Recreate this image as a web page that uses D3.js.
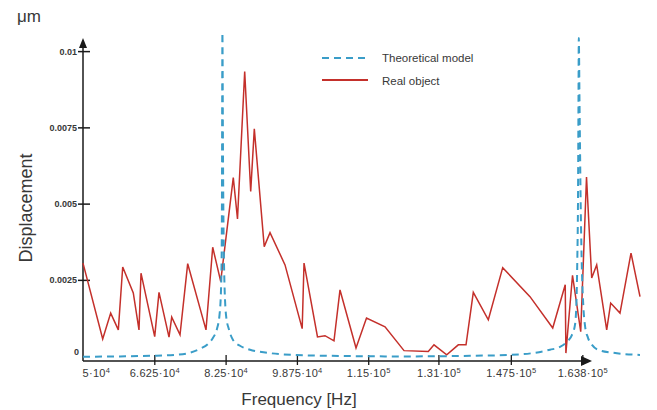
<!DOCTYPE html>
<html><head><meta charset="utf-8">
<script src="https://cdn.jsdelivr.net/npm/d3@7"></script>
<style>body{margin:0;background:#fff}svg{display:block}</style>
</head><body><svg id="c" width="657" height="410"></svg>
<script>
// ---- data ----
const realFreq = [50000,54490,56310,58050,59050,61460,62760,63220,66340,67320,69600,70220,72110,73860,78030,79560,81380,84250,85210,86850,88220,89040,91300,92620,96040,99950,100370,103440,105150,107200,108570,112220,114610,118830,123160,128690,129990,132890,135530,137290,138950,142370,145650,151870,157050,159900,160050,161560,163430,164750,165930,167070,169350,170260,172380,174890,176940];
const realDisp = [0.00305,0.00056,0.00141,0.00086,0.00292,0.00207,0.00086,0.00272,0.00064,0.00209,0.00062,0.00128,0.00070,0.00303,0.00086,0.00357,0.00245,0.00585,0.00450,0.00933,0.00540,0.00745,0.00359,0.00405,0.00299,0.00090,0.00305,0.00063,0.00067,0.00050,0.00217,0.00027,0.00125,0.00096,0.00018,0.00015,0.00037,0.00004,0.00037,0.00037,0.00209,0.00119,0.00290,0.00195,0.00092,0.00234,0.00010,0.00265,0.00080,0.00587,0.00256,0.00299,0.00086,0.00174,0.00141,0.00338,0.00195];
const modelFreq = [50000,58430,65270,70970,74390,76660,78490,79630,80540,81110,81450,81610,81680,81720,81770,81910,82130,82590,83270,84190,85780,88060,91930,97860,106290,122240,138200,147310,153010,156430,158710,160300,161440,162130,162470,162650,162810,162920,162990,163150,163430,163720,163950,164410,165090,166000,167370,170790,176940];
const modelDisp = [-0.00002,-0.00001,0.00001,0.00004,0.00011,0.00024,0.00040,0.00060,0.00090,0.00135,0.00217,0.00349,0.00578,0.00840,0.01060,0.00644,0.00306,0.00135,0.00087,0.00053,0.00034,0.00021,0.00011,0.00004,0.00001,-0.00001,0.00001,0.00004,0.00011,0.00021,0.00030,0.00047,0.00070,0.00103,0.00185,0.00316,0.00513,0.00840,0.01043,0.00840,0.00489,0.00273,0.00185,0.00099,0.00060,0.00037,0.00021,0.00011,0.00004];
const xTickValues = [50000,66250,82500,98750,115000,131000,147500,163800];
const xTickMantissa = ["5","6.625","8.25","9.875","1.15","1.31","1.475","1.638"];
const xTickExponent = ["4","4","4","4","5","5","5","5"];
const yTickValues = [0,0.0025,0.005,0.0075,0.01];
const yTickLabels = ["0","0.0025","0.005","0.0075","0.01"];
const seriesNames = ["Theoretical model","Real object"];
const unitLabel = "μm";
const xTitle = "Frequency [Hz]";
const yTitle = "Displacement";

// ---- chart ----
const svg = d3.select("#c");
const FONT = "'Liberation Sans', Arial, Helvetica, sans-serif";
const textColor = "#383838";
const axisColor = "#1a1a1a";
const red = "#c4302b";
const blue = "#3a9dc8";

const x = d3.scaleLinear().domain([50000,166000]).range([83,592]);
const y = d3.scaleLinear().domain([-0.00016,0.01043]).range([361,38]);

const x0 = x.range()[0], yBase = y.range()[0], xEnd = x.range()[1], yTop = y.range()[1];

// x axis
const gx = svg.append("g").attr("transform",`translate(0,${yBase})`)
  .call(d3.axisBottom(x).tickValues(xTickValues).tickSize(0).tickPadding(8));
gx.select(".domain").remove();
gx.selectAll(".tick line").attr("y1",-6).attr("y2",4).attr("stroke",axisColor).attr("stroke-width",1.3)
  .attr("opacity",(d,i)=>i===0?0:1);
gx.selectAll(".tick text").each(function(d,i){
  const t = d3.select(this);
  t.text(null).attr("fill",textColor).attr("font-family",FONT).attr("font-size",11)
   .attr("letter-spacing",0.3)
   .attr("text-anchor", i===0 ? "start" : "middle").attr("x", i===0 ? -1 : 0);
  t.append("tspan").text(xTickMantissa[i] + "·10");
  t.append("tspan").attr("dy","-0.45em").attr("font-size",7.5).text(xTickExponent[i]);
});
svg.append("line").attr("x1",x0).attr("x2",xEnd-4).attr("y1",yBase).attr("y2",yBase)
  .attr("stroke",axisColor).attr("stroke-width",1.5);
svg.append("path").attr("d",`M${xEnd},${yBase} L${xEnd-11},${yBase-5} L${xEnd-11},${yBase+5} Z`).attr("fill",axisColor);

// y axis
const gy = svg.append("g").attr("transform",`translate(${x0},0)`)
  .call(d3.axisLeft(y).tickValues(yTickValues).tickFormat((d,i)=>yTickLabels[i]).tickSize(0).tickPadding(6));
gy.select(".domain").remove();
gy.selectAll(".tick line").attr("x1",-5).attr("x2",7).attr("stroke",axisColor).attr("stroke-width",1.5)
  .attr("opacity",d=>d===0?0:1);
gy.selectAll(".tick text").attr("fill",textColor).attr("font-family",FONT).attr("font-size",9).attr("font-weight","bold")
  .attr("y",d=>d===0?-5:0).attr("x",d=>d===0?-4:-6);
svg.append("line").attr("x1",x0).attr("x2",x0).attr("y1",yBase).attr("y2",yTop+6)
  .attr("stroke",axisColor).attr("stroke-width",1.5);
svg.append("path").attr("d",`M${x0},${yTop} L${x0-4},${yTop+10} L${x0+4},${yTop+10} Z`).attr("fill",axisColor);

// series
const realData = realFreq.map((f,i)=>[f,realDisp[i]]);
const modelData = modelFreq.map((f,i)=>[f,modelDisp[i]]);
svg.append("path").datum(realData)
  .attr("d",d3.line().x(d=>x(d[0])).y(d=>y(d[1])))
  .attr("fill","none").attr("stroke",red).attr("stroke-width",1.5).attr("stroke-linejoin","miter");
svg.append("path").datum(modelData)
  .attr("d",d3.line().curve(d3.curveMonotoneX).x(d=>x(d[0])).y(d=>y(d[1])))
  .attr("fill","none").attr("stroke",blue).attr("stroke-width",2).attr("stroke-dasharray","7,5");

// legend
const lg = svg.append("g");
lg.append("line").attr("x1",322).attr("x2",368).attr("y1",58).attr("y2",58)
  .attr("stroke",blue).attr("stroke-width",2).attr("stroke-dasharray","7,5");
lg.append("line").attr("x1",322).attr("x2",368).attr("y1",80).attr("y2",80)
  .attr("stroke",red).attr("stroke-width",1.8);
lg.selectAll("text.leg").data(seriesNames).join("text").attr("class","leg")
  .attr("x",382).attr("y",(d,i)=>58+i*23).attr("dy","0.35em")
  .attr("font-family",FONT).attr("font-size",11.5).attr("fill",textColor).text(d=>d);

// titles
svg.append("text").attr("x",17).attr("y",22).attr("font-family",FONT).attr("font-size",17)
  .attr("fill",textColor).text(unitLabel);
svg.append("text").attr("x",299).attr("y",405).attr("text-anchor","middle").attr("font-family",FONT)
  .attr("font-size",17).attr("fill",textColor).text(xTitle);
svg.append("text").attr("transform","translate(32,208) rotate(-90)").attr("text-anchor","middle")
  .attr("font-family",FONT).attr("font-size",18).attr("fill",textColor).text(yTitle);
</script>
</body></html>
